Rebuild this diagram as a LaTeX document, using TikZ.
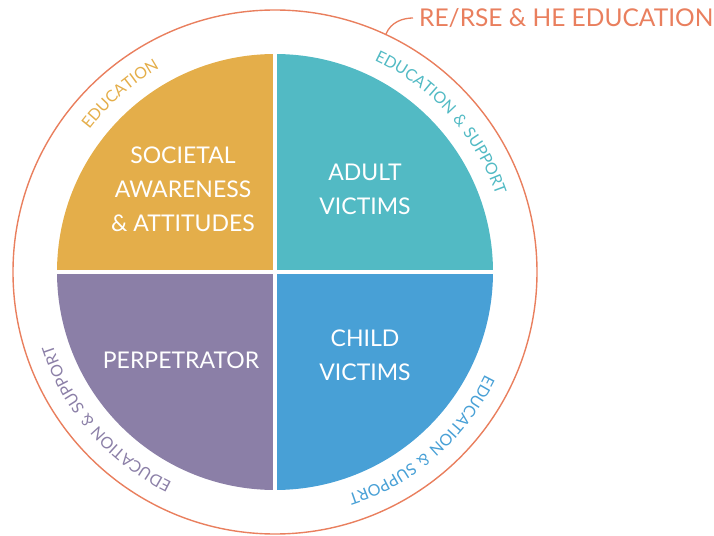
\documentclass[tikz,border=0pt]{standalone}
\usepackage{fontspec}
\setmainfont{Lato}
\newfontfamily\arcfam[LetterSpace=6]{Lato}
\usetikzlibrary{positioning,decorations.text}
\definecolor{gold}{HTML}{E4AE4A}
\definecolor{teal}{HTML}{52BAC4}
\definecolor{lilac}{HTML}{8B7FA7}
\definecolor{sky}{HTML}{48A0D6}
\definecolor{salmon}{HTML}{E97F5E}
\newcommand\arcfont{\arcfam\fontsize{16}{16}\selectfont}

\begin{document}
\begin{tikzpicture}[x=1pt,y=1pt,
        quarter/.style={text=white,font=\fontsize{23}{34}\selectfont,align=center},
        arctext/.style={decorate,decoration={text along path,text align=center,text={#1}}}]
        \useasboundingbox (-275,-263) rectangle (439,272);
        \node[circle,draw=salmon,line width=1.4,minimum size=524,inner sep=0] (ring) at (0,0) {};
        \fill[gold]  (0,0) -- (180:218) arc[start angle=180,end angle=90,radius=218] -- cycle;
        \fill[teal]  (0,0) -- (90:218) arc[start angle=90,end angle=0,radius=218] -- cycle;
        \fill[lilac] (0,0) -- (180:218) arc[start angle=180,end angle=270,radius=218] -- cycle;
        \fill[sky]   (0,0) -- (270:218) arc[start angle=270,end angle=360,radius=218] -- cycle;
        \draw[white,line width=4.5] (-220,0) -- (220,0) (0,-220) -- (0,220);
        \node[quarter] (society) at (-92,83) {SOCIETAL\\AWARENESS\\\& ATTITUDES};
        \node[quarter] (adult) at (90,83) {ADULT\\VICTIMS};
        \node[quarter] (perp) at (-94,-88) {PERPETRATOR};
        \node[quarter] (child) at (90,-83) {CHILD\\VICTIMS};
        % ring labels, clockwise so the letters face outwards
        \path[arctext={|\arcfont\color{gold}|EDUCATION}] (171:234) arc[start angle=171,end angle=91,radius=234];
        \path[arctext={|\arcfont\color{teal}|EDUCATION {\&} SUPPORT}] (82:234) arc[start angle=82,end angle=2,radius=234];
        \path[arctext={|\arcfont\color{lilac}|EDUCATION {\&} SUPPORT}] (261:234) arc[start angle=261,end angle=181,radius=234];
        \path[arctext={|\arcfont\color{sky}|EDUCATION {\&} SUPPORT}] (351:234) arc[start angle=351,end angle=271,radius=234];
        \node[anchor=west,inner sep=0,text=salmon,font=\fontsize{24.5}{24.5}\selectfont] (title) at (144,254) {RE/RSE \& HE EDUCATION};
        \draw[salmon,line width=1.3] (ring.65) .. controls +(5,12) and +(-10,0) .. ([xshift=-6]title.west);
    \end{tikzpicture}
\end{document}
